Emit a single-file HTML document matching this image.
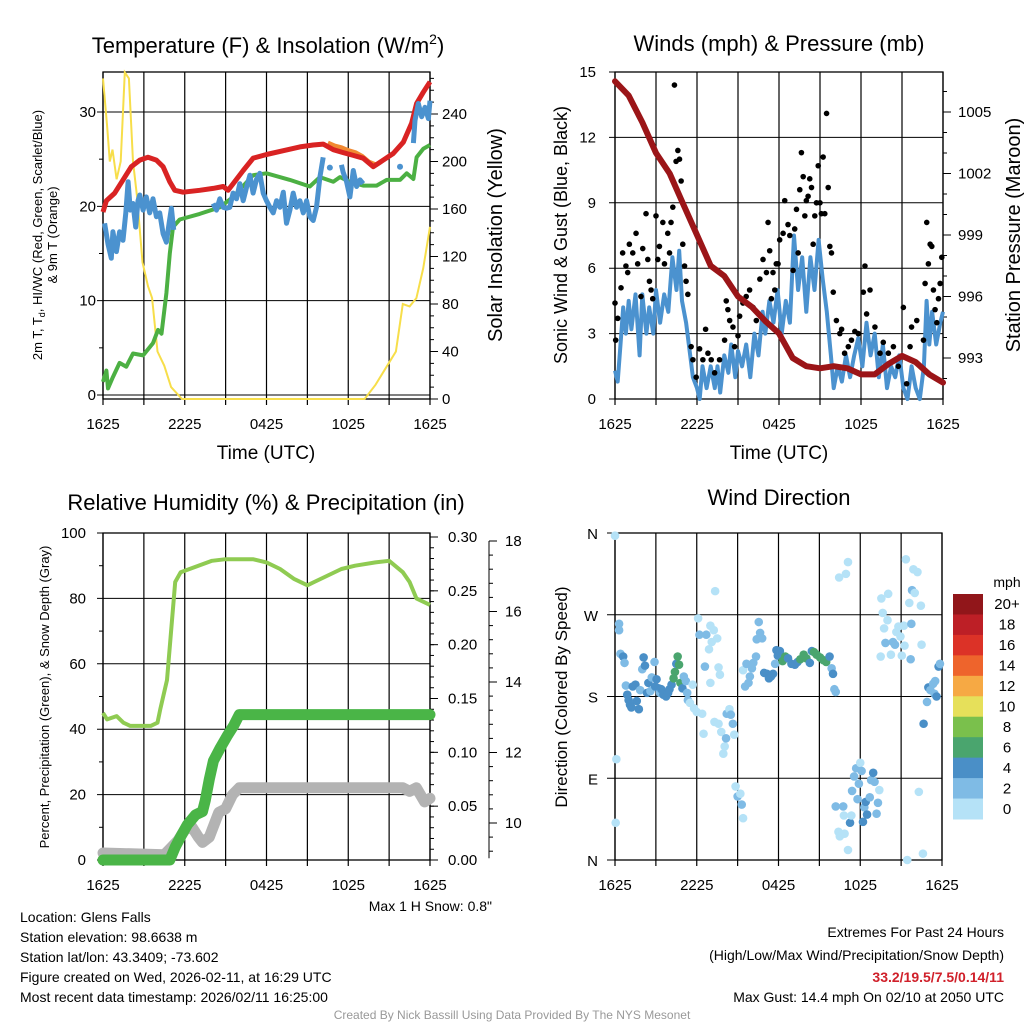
<!DOCTYPE html>
<html><head><meta charset="utf-8"><style>
body{margin:0;background:#fff;}
svg{display:block;font-family:"Liberation Sans",Arial,sans-serif;}
</style></head><body>
<svg id="s" width="1024" height="1024" viewBox="0 0 1024 1024">
<rect width="1024" height="1024" fill="#fff"/>
<text x="268" y="53" font-size="22" text-anchor="middle">Temperature (F) &amp; Insolation (W/m<tspan font-size="14" dy="-9">2</tspan><tspan dy="9">)</tspan></text>
<text x="779" y="51" font-size="22" text-anchor="middle">Winds (mph) &amp; Pressure (mb)</text>
<text x="266" y="510" font-size="22" text-anchor="middle">Relative Humidity (%) &amp; Precipitation (in)</text>
<text x="779" y="505" font-size="22" text-anchor="middle">Wind Direction</text>
<g font-size="14">
<text x="20" y="922">Location: Glens Falls</text>
<text x="20" y="942">Station elevation: 98.6638 m</text>
<text x="20" y="962">Station lat/lon: 43.3409; -73.602</text>
<text x="20" y="982">Figure created on Wed, 2026-02-11, at 16:29 UTC</text>
<text x="20" y="1002">Most recent data timestamp: 2026/02/11 16:25:00</text>
</g>
<g font-size="14" text-anchor="end">
<text x="1004" y="937">Extremes For Past 24 Hours</text>
<text x="1004" y="960">(High/Low/Max Wind/Precipitation/Snow Depth)</text>
<text x="1004" y="982" fill="#d0202a" font-weight="bold">33.2/19.5/7.5/0.14/11</text>
<text x="1004" y="1002">Max Gust: 14.4 mph On 02/10 at 2050 UTC</text>
</g>
<text x="512" y="1019" font-size="12" fill="#999" text-anchor="middle">Created By Nick Bassill Using Data Provided By The NYS Mesonet</text>
<text x="492" y="911" font-size="14" text-anchor="end">Max 1 H Snow: 0.8"</text>
</svg>
<script>
// ---- data ----
const timeLabels=["1625","2225","0425","1025","1625"];
const tempT=[0,0.25,0.86,1.47,2.08,2.7,3.3,3.92,4.41,4.9,5.27,5.88,7.1,8.08,8.82,9.18,9.55,10.29,11.02,12,13.23,14.45,15.43,16.16,16.9,17.63,18.37,19.1,19.84,20.57,21.3,22.04,22.65,23.02,23.51,24];
const tempV=[19.4,20.6,21.4,22.8,24.2,24.9,25.2,24.9,24.2,22.6,21.7,21.5,21.7,21.9,22.1,21.7,22.4,23.8,25.1,25.5,25.9,26.3,26.5,26.6,26,25.7,25.4,25.1,24.2,24.9,25.6,26.8,28.8,30.9,32.1,33.2];
const t9T=[16.5,17,17.5,18,18.5,19,19.5,20];
const t9V=[26.7,26.4,26.2,25.9,25.7,25.3,24.7,24.4];
const dewT=[0,0.25,0.37,0.73,1.22,1.71,2.2,2.94,3.67,4.04,4.29,4.65,4.9,5.14,5.63,7.1,8.57,9.55,11.02,12,13.72,15.18,15.92,16.9,17.39,18.12,19.1,20.08,20.82,21.8,22.29,22.78,23.02,23.51,24];
const dewV=[1.4,2.6,0.7,1.9,3.4,3,4.4,4.2,5.5,6.9,6.5,10.8,15,17.8,18.6,19.2,19.9,21,23.3,23.5,22.8,22.1,23.1,22.6,23.1,22.6,22.2,22.2,22.8,22.8,23.5,22.9,25.2,26.1,26.5];
const wcT=[0.12,0.37,0.61,0.73,0.98,1.22,1.47,1.67,1.84,2.0,2.2,2.4,2.57,2.7,2.94,3.18,3.43,3.67,3.92,4.16,4.41,4.65,4.85,5.02,5.19,null,8.08,8.33,8.57,8.82,9.06,9.31,9.55,9.8,10.04,10.29,10.53,10.78,11.02,11.27,11.51,11.76,12,12.25,12.49,12.74,12.98,13.23,13.47,13.72,13.96,14.2,14.45,14.7,14.94,15.18,15.43,15.67,15.92,16.16,null,17.5,17.63,17.88,18.12,18.37,18.61,18.86,19.1,null,22.78,22.9,23.14,23.39,23.63,23.88,24];
const wcV=[18.2,16,14.5,17.3,15.2,17.3,16.4,19.3,22.6,19.6,20.3,17.8,20.6,21.2,19.6,21,19.3,20.8,18.9,19.3,17.1,16.2,18.2,19.8,17.5,null,20.3,19.6,20.8,19.9,19.8,19.9,21.4,20.8,22.4,20.6,22,23.3,21.4,22.9,23.5,21.4,20.6,19.9,19.3,20.6,19.9,21.5,18.2,19.6,21.4,19.9,20.6,19.3,20.6,18.9,18.5,19.9,23.1,25.2,null,24.4,23.6,22.6,21,23.8,22.1,22.8,22.4,null,26.7,29.1,30.9,29.5,30.5,29.3,31.2];
const wcDotT=[16.65,21.8];
const wcDotV=[24.1,24.2];
const solarT=[0,0.3,0.5,0.7,1,1.3,1.6,1.9,2.2,2.5,2.9,3.3,3.6,4,4.5,5,5.8,19.2,20,20.7,21.5,22,22.5,23,23.5,24];
const solarV=[270,230,200,210,185,200,275,270,200,170,115,95,85,40,28,10,0,0,12,25,40,80,78,85,110,145];
const presT=[0,1,2,3,4,5,6,7,8,9,10,11,12,13,14,15,16,17,18,19,20,21,22,23,24];
const presV=[1006.5,1005.8,1004.5,1003,1002,1000.5,999,997.5,997,996,995.5,994.8,994.2,993,992.6,992.5,992.6,992.5,992.2,992.2,992.7,993.1,992.8,992.2,991.8];
const windT=[0,0.2,0.4,0.6,0.8,1,1.2,1.5,1.8,2,2.3,2.5,2.8,3,3.3,3.6,3.9,4.2,4.5,4.7,4.9,5.2,5.5,5.7,6,6.2,6.4,6.7,7,7.3,7.5,7.7,8,8.3,8.5,8.8,9,9.3,9.6,9.9,10.2,10.5,10.8,11,11.3,11.6,11.9,12.2,12.5,12.8,13.1,13.4,13.7,14,14.3,14.6,14.9,15.2,15.5,15.8,16,16.3,16.6,16.9,17.2,17.5,17.8,18.1,18.4,18.7,19,19.3,19.6,19.9,20.2,20.5,20.8,21.1,21.4,21.7,22,22.3,22.6,22.8,23,23.2,23.5,23.8,24];
const windV=[1.3,0.8,2.5,4.2,3,4.5,3.2,4.8,2,4.8,3,4.2,3,5,3.5,4.8,4,6.5,5,6.8,4.5,3.5,2,1,0.5,0,1.5,0.5,1.5,0.5,1.5,0.3,2,1.2,2.5,1,2.2,1.5,2.5,1,3,2,4,3,4.5,3.5,5,3,4.5,3.5,7.5,5,6.5,4,6.5,5,7.3,5.5,4,2,0.5,1.5,0.8,2,1,2,2.8,1.5,3.5,2,3,1,2.5,0.5,1.5,1,2,0.5,0,1.5,0.5,0,1.5,4.5,2.5,4,2.5,3.5,4];
const gustT=[0,0.05,0.2,0.44,0.56,0.8,0.93,1.05,1.3,1.54,1.66,1.9,2.03,2.27,2.4,2.52,2.64,2.76,3,3.13,3.25,3.5,3.62,3.86,3.99,4.1,4.23,4.35,4.47,4.6,4.72,4.84,4.96,5.09,5.2,5.33,5.57,5.7,5.94,6.19,6.43,6.63,6.8,7.04,7.29,7.65,8.02,8.14,8.26,8.39,8.63,8.75,9,9.12,9.36,9.6,9.85,10.1,10.34,10.6,10.83,11.08,11.2,11.32,11.44,11.56,11.69,11.8,11.93,12.05,12.3,12.42,12.66,12.79,13.03,13.15,13.28,13.4,13.52,13.64,13.77,13.89,14,14.13,14.25,14.38,14.5,14.62,14.74,14.87,15,15.1,15.23,15.35,15.48,15.6,15.72,15.84,15.97,16.2,16.45,16.58,16.8,17.07,17.3,17.55,17.8,18.17,18.29,18.41,18.66,19.02,19.39,19.63,20,20.37,20.73,21.1,21.34,21.59,21.7,22.08,22.57,22.69,22.81,22.93,23.06,23.18,23.3,23.42,23.55,23.67,23.79,23.91];
const gustV=[4.4,2.7,3.7,5.1,6.7,6.1,5.8,7.1,6.7,7.6,6.2,4.7,6.9,8.5,6.4,5.4,5,4.6,8.4,6.4,7,8.1,6.2,7.6,6.7,8.1,8.8,14.4,10.9,11.4,11,10,7.1,6.1,5.4,4.8,2.4,1.8,1,2.3,1.8,3.2,2.1,1.8,1.2,1.8,2.7,4.5,4.1,3.6,3.3,2.4,2.9,3.8,4.4,4.7,5,4.2,3.6,5.5,6.4,5.8,8.1,6.8,4.6,5.8,5,6.2,6.2,7.3,7.6,9.1,8,7.5,5.9,7.8,8.7,6.7,9.6,11.3,10.2,8.4,9.1,9.3,10.1,9.7,7.1,8.4,9,10.7,9,8.5,11.1,8.5,13.1,9.7,7,6.7,4.9,3.6,3,3.2,2.1,2.4,2.7,3.1,3,4.9,6.1,3.9,5,3.3,2.1,2.6,2.1,2.4,1.5,4.2,0.7,2.4,3.3,3.6,2.7,5.3,8.1,6.2,7.1,7,5,4.1,3.5,4.6,5.3,6.5];
const rhT=[0,0.3,1,1.5,2,3,3.5,4,4.2,4.7,5,5.3,5.7,7,8,9,10,11,12,13,14,15,15.5,16.5,17.5,18.5,20,21,22,22.5,23,23.5,24];
const rhV=[45,43,44,42,41,41,41,42,46,55,70,85,88,90,91.5,92,92,92,91,89,86,84,85,87,89,90,91,91.5,88,85,80,79,78];
const precipT=[0,4.9,5.3,5.8,6.2,6.8,7.3,7.5,7.8,8.1,8.6,9.1,9.6,10,24];
const precipV=[0,0,0.012,0.024,0.033,0.042,0.045,0.055,0.075,0.092,0.104,0.115,0.125,0.135,0.135];
const snowT=[0,4.5,5,5.5,6,6.5,7,7.3,7.8,8.5,9,9.5,10,22,22.5,23,23.6,24];
const snowV=[9.15,9.1,9.3,9.5,9.8,9.9,9.6,9.45,9.6,10.3,10.4,10.8,11,11,10.9,11,10.6,10.7];
const dirT=[0,0.1,0.05,0.3,0.3,0.4,0.6,0.7,0.8,0.9,1,1.1,1.2,1.3,1.5,1.6,1.75,1.85,2,2.1,2.2,2.35,2.45,2.6,2.7,2.9,2.95,3.05,3.2,3.3,3.4,3.55,3.75,3.9,4,4.15,4.3,4.4,4.5,4.6,4.7,4.8,4.95,5.05,5.2,5.3,5.35,5.5,5.7,5.8,6,6.1,6.2,6.4,6.5,6.6,6.7,6.9,7,7.1,7.25,7.35,7.5,7.6,7.7,7.0,7.3,7.6,7.8,7.95,8.05,8.15,8.2,8.4,8.5,8.65,8.75,8.85,9,9.2,9.3,9.4,9.4,9.55,9.65,9.8,9.9,10.05,10.15,10.35,10.4,10.55,10.65,10.8,10.95,11.15,11.3,11.45,11.6,11.75,11.85,11.95,12.1,12.3,12.5,12.7,12.95,13.2,13.4,13.6,13.85,14.05,14.3,14.45,14.6,14.8,15.05,15.3,15.5,15.75,15.9,16,16.1,16.2,16.45,16.95,17.1,16.2,16.4,16.5,16.75,16.8,16.85,17.1,17.25,17.35,17.4,17.55,17.7,17.8,17.9,18,18.1,18.2,18.3,18.4,18.5,18.7,18.8,18.95,19.05,19.2,19.3,19.4,19.5,19.55,19.65,19.75,19.85,20,20.05,20.25,20.4,20.55,20.65,20.8,20.95,21.05,21.2,21.25,21.35,21.45,21.6,21.7,21.8,21.75,21.9,22,22.2,22.3,22.45,22.5,22.6,22.65,22.9,23,23.15,23.35,23.45,23.6,23.75,23.85,23.5];
const dirV=[357,111,41,260,253,227,224,217,192,182,176,171,168,191,193,175,166,187,210,223,214,184,195,186,201,218,191,199,189,184,188,182,180,184,188,193,200,207,216,224,215,195,189,202,197,184,176,173,193,167,163,266,248,161,139,213,248,232,258,240,253,296,244,212,204,195,152,150,141,117,125,134,161,166,160,150,138,81,70,73,61,46,209,191,216,195,202,211,217,224,243,262,250,244,206,205,200,202,205,216,231,225,230,219,224,222,216,215,218,221,226,222,217,230,229,226,223,220,218,224,211,205,188,185,311,315,328,59,31,26,59,49,29,11,41,49,76,92,101,67,84,107,98,42,58,64,50,69,88,96,86,51,63,77,224,288,272,255,239,264,293,226,240,237,251,257,246,225,258,236,331,0,283,221,297,260,320,294,317,75,280,237,7,150,174,190,187,194,183,180,213,216,197];
const dirSpd=[1,1,1,3,3,3,5,3,3,5,5,5,5,5,5,5,5,3,3,5,5,5,5,3,3,3,5,5,5,3,5,5,5,5,5,5,7,7,5,7,7,7,5,3,3,3,3,1,1,1,1,1,3,1,1,3,3,1,1,1,1,1,1,1,1,1,1,1,1,1,1,3,3,1,3,3,1,1,3,1,3,1,1,3,3,3,3,3,3,3,3,3,3,3,5,5,5,5,5,3,5,5,5,7,7,5,5,5,5,7,7,7,5,5,7,7,7,7,7,5,3,5,3,3,1,1,1,3,1,1,3,1,1,1,5,1,3,3,3,3,3,1,3,5,3,5,5,3,3,5,3,3,3,1,1,1,1,1,3,1,1,1,3,3,1,1,1,1,1,1,1,1,1,3,3,3,1,1,1,1,1,1,1,5,3,5,3,3,3,5,5,3,3,3];
const cbLabels=["20+","18","16","14","12","10","8","6","4","2","0"];
const cbColors=["#91161a","#bd1f26","#dc3227","#ee642c","#f6a944","#e6e05a","#7ac04c","#4aa56e","#4a8fc7","#7fbbe5","#b5e2f7"];

const NS='http://www.w3.org/2000/svg';
const svg=document.getElementById('s');
function mk(tag,attrs,parent){const e=document.createElementNS(NS,tag);for(const k in attrs)e.setAttribute(k,attrs[k]);(parent||svg).appendChild(e);return e;}
function lin(d0,d1,r0,r1){return v=>r0+(v-d0)/(d1-d0)*(r1-r0);}
function path(xs,ys,T,V){let d='',pen=false;for(let i=0;i<T.length;i++){if(T[i]===null||V[i]===null){pen=false;continue;}d+=(pen?'L':'M')+xs(T[i]).toFixed(1)+' '+ys(V[i]).toFixed(1);pen=true;}return d;}
function txt(x,y,s,size,anchor,parent,rot){const e=mk('text',{x:x,y:y,'font-size':size,'text-anchor':anchor||'middle'},parent);if(rot)e.setAttribute('transform','rotate('+rot+' '+x+' '+y+')');e.textContent=s;return e;}
function frame(x0,x1,y0,y1,name){
  const g=mk('g',{});
  
  
  const xs=lin(0,24,x0,x1);
  for(let h=0;h<=24;h+=3){mk('line',{x1:xs(h),x2:xs(h),y1:y0,y2:y1+6,stroke:'#000','stroke-width':1.2},g);}
  timeLabels.forEach((l,i)=>{const t=txt(xs(i*6),y1+30,l,15,'middle',g);});
  mk('rect',{x:x0,y:y0,width:x1-x0,height:y1-y0,fill:'none',stroke:'#000','stroke-width':1.3},g);
  return {g,xs};
}
function hgrid(g,ys,vals,x0,x1,labx,fmt,minor,y0,y1){
  vals.forEach(v=>{mk('line',{x1:x0-6,x2:x1,y1:ys(v),y2:ys(v),stroke:'#000','stroke-width':1},g);const t=txt(labx,ys(v)+5,fmt(v),15,'end',g);});
  minor.forEach(v=>{mk('line',{x1:x0-4,x2:x0,y1:ys(v),y2:ys(v),stroke:'#000'},g);});
}
function rightAxis(g,ys,x,vals,minor,fmt,labx){
  mk('line',{x1:x,x2:x,y1:ys(vals[0]),y2:ys(vals[vals.length-1]),stroke:'#000'},g);
  vals.forEach(v=>{mk('line',{x1:x,x2:x+8,y1:ys(v),y2:ys(v),stroke:'#000'},g);const t=txt(labx,ys(v)+5,fmt(v),15,'start',g);});
  minor.forEach(v=>{mk('line',{x1:x,x2:x+4,y1:ys(v),y2:ys(v),stroke:'#000'},g);});
}
function rng(a,b,s){const r=[];for(let v=a;v<=b+1e-9;v+=s)r.push(+v.toFixed(4));return r;}

// ---------- Panel 1 ----------
{
const {g,xs}=frame(103,430,72,399,'temperature-panel');
const yT=lin(0,30,395,112), yS=lin(0,240,399,114);
hgrid(g,yT,[0,10,20,30],103,430,96,v=>v,rng(5,25,10),72,399);
rightAxis(g,yS,430,[0,40,80,120,160,200,240],rng(10,270,10),v=>v,442);
let p;
p=mk('path',{d:path(xs,yS,solarT,solarV),fill:'none',stroke:'#f7de4a','stroke-width':2},g);


p=mk('path',{d:path(xs,yT,dewT,dewV),fill:'none',stroke:'#4cb043','stroke-width':4,'stroke-linejoin':'round'},g);


p=mk('path',{d:path(xs,yT,t9T,t9V),fill:'none',stroke:'#f18a32','stroke-width':5,'stroke-linejoin':'round'},g);


p=mk('path',{d:path(xs,yT,tempT,tempV),fill:'none',stroke:'#d92323','stroke-width':5,'stroke-linejoin':'round'},g);


p=mk('path',{d:path(xs,yT,wcT,wcV),fill:'none',stroke:'#4b92cf','stroke-width':5,'stroke-linejoin':'round'},g);


wcDotT.forEach((t,i)=>{const c=mk('circle',{cx:xs(t),cy:yT(wcDotV[i]),r:3,fill:'#4b92cf'},g);});
txt(266,459,'Time (UTC)',19,'middle',g);
const l1=txt(42,235,'',13,'middle',g,-90);l1.innerHTML='2m T, T<tspan font-size="9" dy="3">d</tspan><tspan dy="-3">, HI/WC (Red, Green, Scarlet/Blue)</tspan>';

txt(57,235,'& 9m T (Orange)',13,'middle',g,-90);
const r1=txt(502,235,'Solar Insolation (Yellow)',20,'middle',g,-90);

}
// ---------- Panel 2 ----------
{
const {g,xs}=frame(615,943,72,399,'wind-panel');
const yW=lin(0,15,399,72), yP=lin(993,1005,358,112);
hgrid(g,yW,[0,3,6,9,12,15],615,943,596,v=>v,[],72,399);
rightAxis(g,yP,943,[993,996,999,1002,1005],rng(992,1006,1),v=>v,958);
let p=mk('path',{d:path(xs,yW,windT,windV),fill:'none',stroke:'#4b92cf','stroke-width':4,'stroke-linejoin':'round'},g);


gustT.forEach((t,i)=>{const c=mk('circle',{cx:xs(t),cy:yW(gustV[i]),r:2.8,fill:'#000'},g);});
p=mk('path',{d:path(xs,yP,presT,presV),fill:'none',stroke:'#9b1518','stroke-width':6,'stroke-linejoin':'round','stroke-linecap':'round'},g);


txt(779,459,'Time (UTC)',19,'middle',g);
const a=txt(567,235,'Sonic Wind & Gust (Blue, Black)',18,'middle',g,-90);

const b=txt(1020,235,'Station Pressure (Maroon)',20,'middle',g,-90);

}
// ---------- Panel 3 ----------
{
const {g,xs}=frame(103,430,533,860,'humidity-panel');
const yR=lin(0,100,860,533), yPr=lin(0,0.3,860,537), ySn=lin(10,18,823,541);
hgrid(g,yR,[0,20,40,60,80,100],103,430,86,v=>v,rng(10,90,20),533,860);
rightAxis(g,yPr,430,[0,0.05,0.1,0.15,0.2,0.25,0.3],rng(0.01,0.29,0.01),v=>v.toFixed(2),448);
rightAxis(g,ySn,489,[10,12,14,16,18],rng(9.2,17.8,0.4),v=>v,505);
mk('line',{x1:489,x2:489,y1:ySn(9),y2:ySn(18),stroke:'#000'},g);
let p=mk('path',{d:path(xs,ySn,snowT,snowV),fill:'none',stroke:'#b3b3b3','stroke-width':11,'stroke-linejoin':'round','stroke-linecap':'round'},g);


p=mk('path',{d:path(xs,yPr,precipT,precipV),fill:'none',stroke:'#4ab547','stroke-width':11,'stroke-linejoin':'round','stroke-linecap':'round'},g);


p=mk('path',{d:path(xs,yR,rhT,rhV),fill:'none',stroke:'#8fcb52','stroke-width':4,'stroke-linejoin':'round'},g);


const a=txt(49,697,'Percent, Precipitation (Green), & Snow Depth (Gray)',13,'middle',g,-90);

}
// ---------- Panel 4 ----------
{
const {g,xs}=frame(615,942,533,860,'direction-panel');
const yD=lin(0,360,860,533);
const dl=['N','E','S','W','N'];
[0,90,180,270,360].forEach((v,i)=>{mk('line',{x1:607,x2:942,y1:yD(v),y2:yD(v),stroke:'#000'},g);const t=txt(598,yD(v)+6,dl[i],15,'end',g);});
const colIdx=s=>10-Math.min(10,Math.floor(s/2));
dirT.forEach((t,i)=>{const sp=(dirSpd[i]===undefined)?3:dirSpd[i];const c=mk('circle',{cx:xs(t),cy:yD(dirV[i]),r:4.3,fill:cbColors[colIdx(sp)]},g);});
const a=txt(567,697,'Direction (Colored By Speed)',17,'middle',g,-90);

const cb=mk('g',{});


const h=(819-594)/cbColors.length;
cbColors.forEach((c,i)=>{const r=mk('rect',{x:953,y:594+i*h,width:30,height:h+0.5,fill:c},cb);});
cbLabels.forEach((l,i)=>{txt(1007,594+i*h+h/2+5,l,15,'middle',cb);});
txt(1007,587,'mph',14,'middle',cb);
}
</script>
</body></html>
